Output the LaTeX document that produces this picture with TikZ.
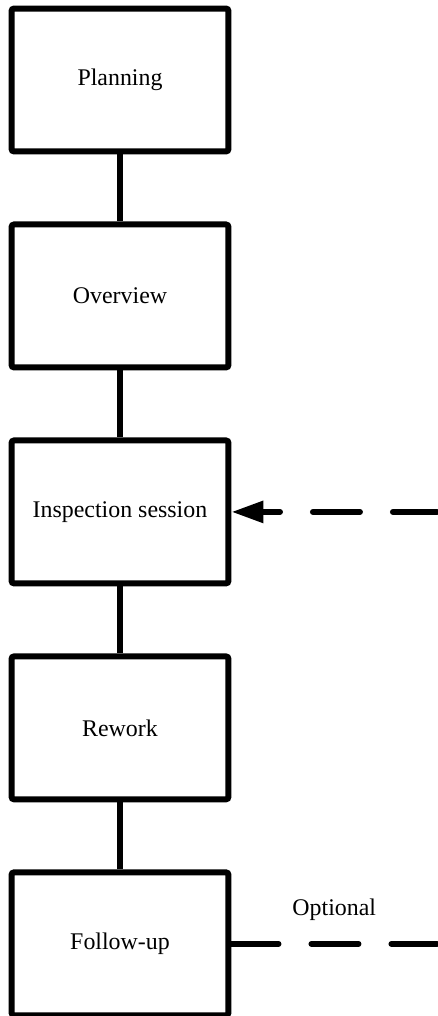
\documentclass[tikz,border=0pt]{standalone}
\usepackage{fontspec}
\setmainfont{Liberation Serif}
\usetikzlibrary{positioning,arrows.meta}

\begin{document}
\begin{tikzpicture}
  [x=0.02cm,y=-0.02cm,node distance=1.34cm,
   every node/.style={font=\fontsize{13.6}{16}\selectfont},
   stage/.style={draw,line width=0.12cm,rounded corners=1.5pt,minimum width=4.34cm,minimum height=2.86cm},
   link/.style={line width=0.12cm},
   optlink/.style={line width=0.12cm,line cap=round,dash pattern=on 0.94cm off 0.66cm}]
  \useasboundingbox (0,0) rectangle (437,1016);
  \coordinate (rim) at (437,0);

  \node[stage] (plan) at (120,80) {Planning};
  \node[stage,below=of plan] (over) {Overview};
  \node[stage,below=of over] (insp) {Inspection session};
  \node[stage,below=of insp] (rew) {Rework};
  \node[stage,below=of rew] (fup) {Follow-up};

  \draw[link] (plan) -- (over);
  \draw[link] (over) -- (insp);
  \draw[link] (insp) -- (rew);
  \draw[link] (rew) -- (fup);

  \draw[optlink,dash phase=0.58cm,{Triangle[length=0.64cm,width=0.42cm]}-] (insp.east) -- (insp.east -| rim);
  \draw[optlink] (fup.east) -- node[midway,anchor=base,yshift=0.56cm] {Optional} (fup.east -| rim);
\end{tikzpicture}
\end{document}
